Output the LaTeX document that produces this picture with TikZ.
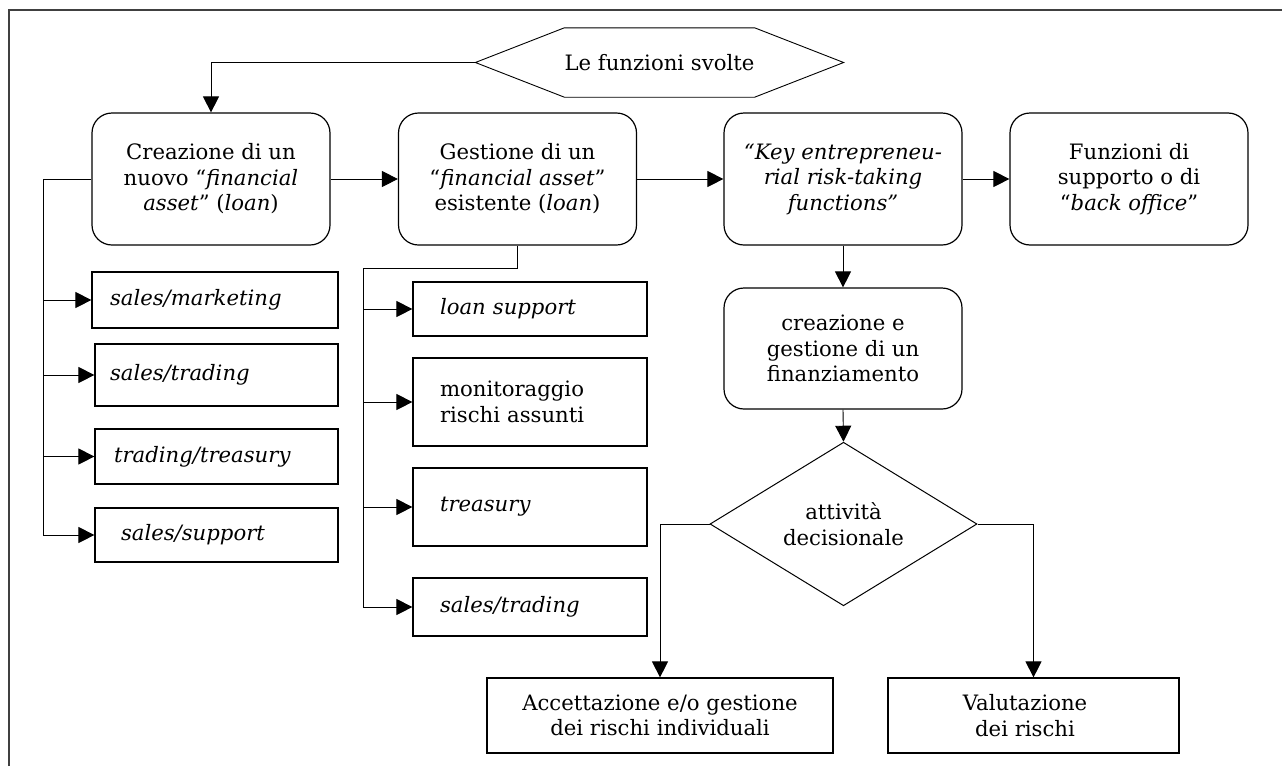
\documentclass[tikz,border=0pt]{standalone}
\usepackage{fontspec}
\setmainfont{DejaVu Serif}
\usetikzlibrary{arrows.meta,shapes.geometric,calc}
\begin{document}
\begin{tikzpicture}[x=1pt,y=-1pt,
  font=\fontsize{21.2}{25.5}\selectfont,
  rbox/.style={draw, line width=1.2pt, rounded corners=20pt, minimum width=238pt, minimum height=132pt, align=center, inner sep=0pt},
  sbox/.style={draw, line width=1.2pt, inner ysep=0pt, align=left},
  cbox/.style={draw, line width=1.2pt, inner sep=0pt, align=center},
  ln/.style={line width=0.9pt},
  arr/.style={line width=0.9pt, -{Triangle[length=16pt,width=16pt]}},
  frame/.style={line width=1.5pt, draw=black!75}]
\useasboundingbox (0,0) rectangle (1282,766);
\draw[frame] (9,766) -- (9,10) -- (1282,10);

% top hexagon
\node[minimum width=177pt, minimum height=69pt, inner sep=0pt] (hex) at (659.5,62.5) {Le funzioni svolte};
\coordinate (hexL) at ($(hex.west)+(-89,0)$);
\coordinate (hexR) at ($(hex.east)+(89,0)$);
\draw[ln] (hex.north west) -- (hex.north east) -- (hexR) -- (hex.south east) -- (hex.south west) -- (hexL) -- cycle;

% top row
\node[rbox] (b1) at (211,179) {Creazione di un\\nuovo “\textit{financial}\\\textit{asset}” (\textit{loan})};
\node[rbox] (b2) at (517.5,179) {Gestione di un\\“\textit{financial asset}”\\esistente (\textit{loan})};
\node[rbox, font=\fontsize{21.2}{25.5}\selectfont\itshape] (b3) at (843,179) {“Key entrepreneu-\\rial risk-taking\\functions”};
\node[rbox] (b4) at (1129,179) {Funzioni di\\supporto o di\\“\textit{back office}”};

% right column
\node[rbox, minimum height=121pt] (b5) at (843,348.5) {creazione e\\gestione di un\\finanziamento};
\node[diamond, draw, line width=1pt, minimum width=267pt, minimum height=132pt, inner sep=0pt, align=center] (d) at (843.5,524) {attività\\decisionale};
\node[cbox, minimum width=346pt, minimum height=75pt] (acc) at (660,715.5) {Accettazione e/o gestione\\dei rischi individuali};
\node[cbox, minimum width=291pt, minimum height=75pt] (val) at (1033.5,715.5) {Valutazione\rule{17pt}{0pt}\\dei rischi\rule{17pt}{0pt}};

% left column
\node[sbox, minimum height=56pt, inner xsep=18pt, text width=210pt] (sm) at (215,300) {\textit{sales/marketing}};
\node[sbox, minimum height=62pt, inner xsep=15pt, text width=213pt] (st1) at (216.5,375) {\textit{sales/trading}};
\node[sbox, minimum height=55pt, inner xsep=19pt, text width=205pt] (tt) at (216.5,456.5) {\textit{trading/treasury}};
\node[sbox, minimum height=54pt, inner xsep=26pt, text width=191pt] (ss) at (216.5,535) {\textit{sales/support}};

% middle column
\node[sbox, minimum height=54pt, inner xsep=27pt, text width=180pt] (ls) at (530,309) {\textit{loan support}};
\node[sbox, minimum height=88pt, inner xsep=27pt, text width=180pt] (mon) at (530,402) {monitoraggio\\rischi assunti};
\node[sbox, minimum height=78pt, inner xsep=27pt, text width=180pt] (tr) at (530,507) {\textit{treasury}};
\node[sbox, minimum height=58pt, inner xsep=27pt, text width=180pt] (st2) at (530,607) {\textit{sales/trading}};

% connectors
\draw[arr] (hexL) -| (b1.north);
\draw[arr] (b1.east) -- (b2.west);
\draw[arr] (b2.east) -- (b3.west);
\draw[arr] (b3.east) -- (b4.west);
\draw[arr] (b3.south) -- (b5.north);
\draw[arr] (b5.south) -- (d.north);
\draw[arr] (d.west) -| (acc.north);
\draw[arr] (d.east) -| (val.north);

\coordinate (j1) at (43,179);
\draw[ln] (b1.west) -- (j1) -- (j1 |- ss.west);
\foreach \n in {sm,st1,tt,ss} \draw[arr] (j1 |- \n.west) -- (\n.west);

\coordinate (j2) at (517.5,268);
\coordinate (j3) at (363,268);
\draw[ln] (b2.south) -- (j2) -- (j3) -- (j3 |- st2.west);
\foreach \n in {ls,mon,tr,st2} \draw[arr] (j3 |- \n.west) -- (\n.west);
\end{tikzpicture}
\end{document}
